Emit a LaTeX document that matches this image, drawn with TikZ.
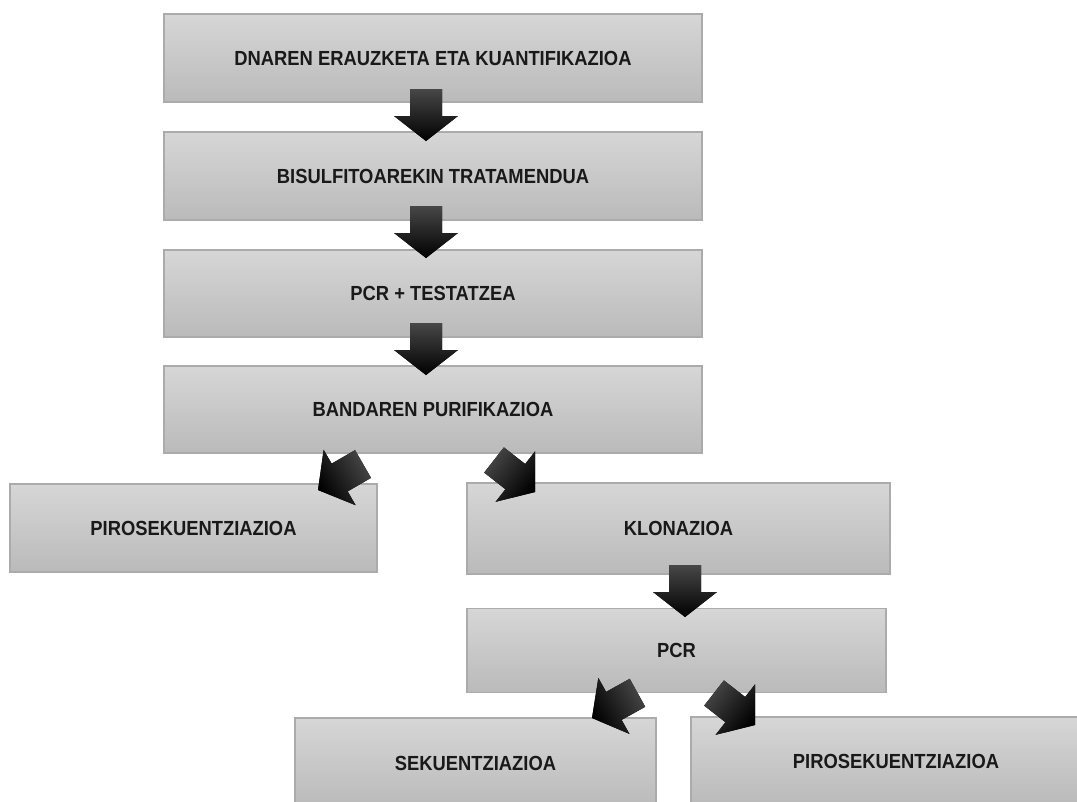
\documentclass[tikz,border=0pt]{standalone}
\usepackage{fontspec}
\setmainfont{Liberation Sans}
\newfontfamily\stagefont[FakeStretch=0.9]{Liberation Sans}
\usetikzlibrary{positioning}

% one unit = one pixel of the reference
\newcommand{\upx}{0.75pt}

\tikzset{
  stage/.style={rectangle, draw=black!33, line width=1.1pt,
    top color=black!16, bottom color=black!27, inner sep=0pt,
    font=\stagefont\bfseries\fontsize{15.3}{18}\selectfont, text=black!90},
  blkarr/.pic={
    \fill[top color=black!72, middle color=black, bottom color=black, shading angle=#1]
      (0,0) -- (32,-25) -- (16,-25) -- (16,-52) -- (-16,-52) -- (-16,-25) -- (-32,-25) -- cycle;
  }
}

\begin{document}
\begin{tikzpicture}[x=\upx, y=-\upx]
\useasboundingbox (0,0) rectangle (1077,801);
\clip (0,0) rectangle (1077,801);

% main column
\node[stage, minimum width=538*\upx, minimum height=88*\upx] (dna) at (433,58) {DNAREN ERAUZKETA ETA KUANTIFIKAZIOA};
\node[stage, minimum width=538*\upx, minimum height=88*\upx] (bis) at (433,176) {BISULFITOAREKIN TRATAMENDUA};
\node[stage, minimum width=538*\upx, minimum height=87*\upx] (pcrt) at (433,293.5) {PCR + TESTATZEA};
\node[stage, minimum width=538*\upx, minimum height=87*\upx] (band) at (433,409.5) {BANDAREN PURIFIKAZIOA};

% branches
\node[stage, minimum width=367*\upx, minimum height=88*\upx] (piro1) at (193.5,528) {PIROSEKUENTZIAZIOA};
\node[stage, minimum width=423*\upx, minimum height=91*\upx] (klon) at (678.5,528.5) {KLONAZIOA};
\node[stage, minimum width=419*\upx, minimum height=84*\upx] (pcr) at (676.5,650.5) {PCR};
\node[stage, minimum width=361*\upx, minimum height=90*\upx] (sek) at (475.5,763) {SEKUENTZIAZIOA};
\node[stage, minimum width=410*\upx, minimum height=88*\upx] (piro2) at (896,761) {PIROSEKUENTZIAZIOA};

% block arrows, placed by their tips
\pic[rotate=0] at (426,141) {blkarr=0};
\pic[rotate=0] at (426,258) {blkarr=0};
\pic[rotate=0] at (426,375) {blkarr=0};
\pic[rotate=-60] at (318,490) {blkarr=-60};
\pic[rotate=52] at (535,492) {blkarr=52};
\pic[rotate=0] at (685,617) {blkarr=0};
\pic[rotate=-61] at (592,718) {blkarr=-61};
\pic[rotate=52] at (755,725) {blkarr=52};
\end{tikzpicture}
\end{document}
